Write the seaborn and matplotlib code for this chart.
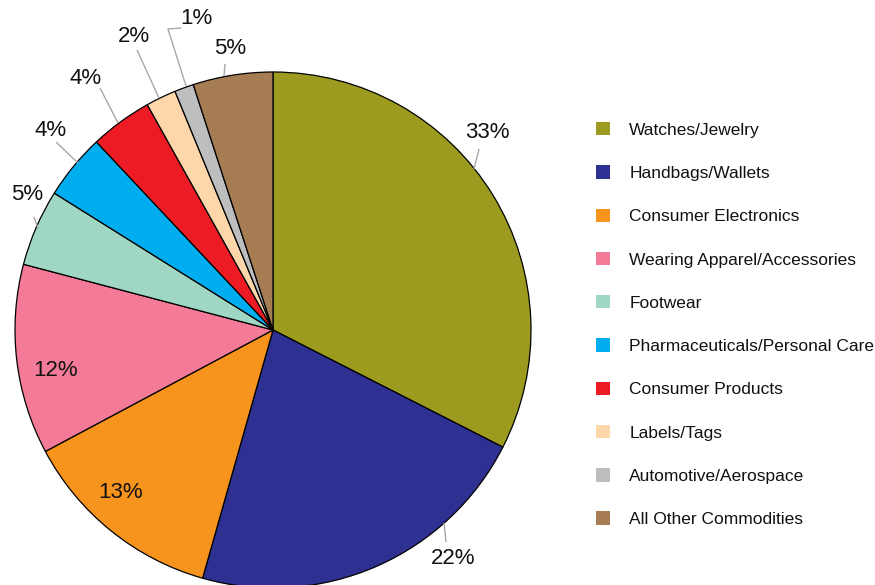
import matplotlib
matplotlib.use("Agg")
import matplotlib.pyplot as plt
import seaborn as sns
import pandas as pd
import numpy as np

# ---- data ----
categories = ["Watches/Jewelry", "Handbags/Wallets", "Consumer Electronics",
              "Wearing Apparel/Accessories", "Footwear",
              "Pharmaceuticals/Personal Care", "Consumer Products",
              "Labels/Tags", "Automotive/Aerospace", "All Other Commodities"]
shares = [32.5, 21.9, 12.8, 11.9, 4.8, 4.1, 3.9, 1.9, 1.2, 5.0]
pct_labels = ["33%", "22%", "13%", "12%", "5%", "4%", "4%", "2%", "1%", "5%"]
colors = ["#9D9B1F", "#2E3192", "#F7941D", "#F37B97", "#A0D6C4",
          "#00AEEF", "#ED1C24", "#FDD7AA", "#BCBEC0", "#A67C52"]

df = pd.DataFrame({"category": categories, "share": shares,
                   "label": pct_labels, "color": colors})

sns.set_theme(style="white")
plt.rcParams["font.family"] = ["Liberation Sans", "DejaVu Sans"]

W, H = 875, 585
fig = plt.figure(figsize=(W / 100, H / 100), dpi=100)
ax = fig.add_axes([0, 0, 1, 1])

CX, CY, R = 273, H - 330, 258
wedges, _ = ax.pie(df["share"], colors=df["color"], startangle=90,
                   counterclock=False, radius=R, center=(CX, CY),
                   wedgeprops=dict(edgecolor="black", linewidth=0.9))
ax.set_xlim(0, W)
ax.set_ylim(0, H)
ax.set_aspect("equal")
ax.axis("off")

# ---- labels (layout, in pixel coords from the top-left) ----
# (text centre, leader polyline) ; None leader => inside label
label_layout = [
    ((487, 133), [(474, 169), (479, 149)]),
    ((453, 558), [(444, 523), (446, 542)]),
    ((121, 492), None),
    ((56, 370), None),
    ((27, 195), [(38, 228), (34, 217)]),
    ((51, 130), [(78, 163), (56, 142)]),
    ((86, 78), [(118, 123), (100, 88)]),
    ((134, 36), [(159, 98), (137, 50)]),
    ((196, 19), [(186, 86), (168, 29), (181, 28)]),
    ((230, 48), [(224, 76), (225, 64)]),
]

for lab, (tpos, leader) in zip(df["label"], label_layout):
    if leader is not None:
        xs = [p[0] for p in leader]
        ys = [H - p[1] for p in leader]
        ax.plot(xs, ys, color="#A8A8A8", linewidth=1.0, solid_capstyle="butt")
    ax.text(tpos[0], H - tpos[1], lab, ha="center", va="center",
            fontsize=16, color="#111111")

handles = wedges
leg = ax.legend(handles, df["category"], loc="upper left",
                bbox_to_anchor=(596 / W, 1 - 122 / H), frameon=False,
                fontsize=12.5, handlelength=0.82, handleheight=0.8,
                handletextpad=1.1, labelspacing=1.59, borderpad=0,
                borderaxespad=0)
for h in leg.legend_handles:
    h.set_edgecolor("none")
    h.set_linewidth(0)
for t in leg.get_texts():
    t.set_color("#111111")

fig.savefig("out.png", dpi=100)
